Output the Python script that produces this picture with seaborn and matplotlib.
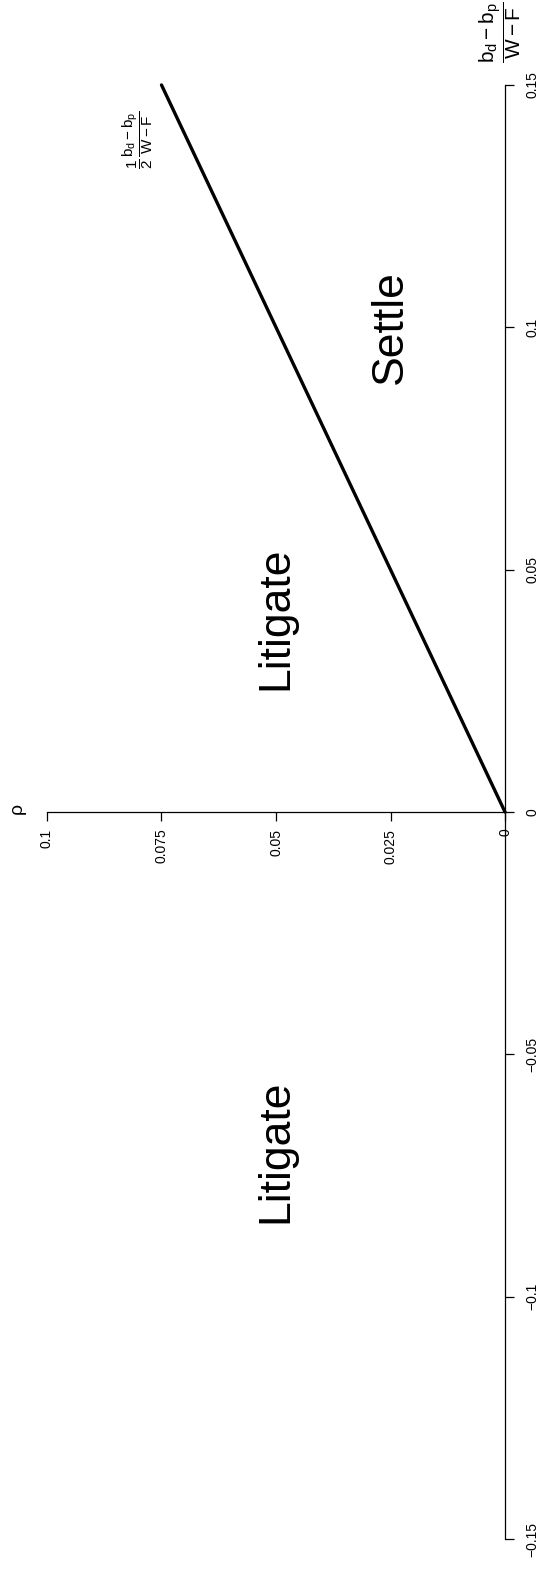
import matplotlib
matplotlib.use("Agg")
import matplotlib.pyplot as plt
import seaborn as sns
import pandas as pd

# ---- data ----
ratio_vals = [0.0, 0.15]          # (b_d - b_p)/(W - F)
rho_vals = [0.0, 0.075]           # rho = ratio / 2
ratio_ticks = [-0.15, -0.1, -0.05, 0.0, 0.05, 0.1, 0.15]
ratio_tick_labels = ["\u22120.15", "\u22120.1", "\u22120.05", "0", "0.05", "0.1", "0.15"]
rho_ticks = [0.0, 0.025, 0.05, 0.075, 0.1]
rho_tick_labels = ["0", "0.025", "0.05", "0.075", "0.1"]
region_labels = ["Litigate", "Litigate", "Settle"]
region_ratio = [0.04, -0.07, 0.1]
region_rho = [0.05, 0.05, 0.025]

sns.set_style("white")
plt.rcParams["font.family"] = ["Liberation Sans", "DejaVu Sans"]
plt.rcParams["mathtext.fontset"] = "custom"
plt.rcParams["mathtext.rm"] = "Liberation Sans"
plt.rcParams["mathtext.it"] = "Liberation Sans"
plt.rcParams["mathtext.sf"] = "Liberation Sans"
plt.rcParams["text.color"] = "black"
plt.rcParams["xtick.color"] = "black"
plt.rcParams["ytick.color"] = "black"
plt.rcParams["axes.labelcolor"] = "black"

fig = plt.figure(figsize=(5.45, 15.70), dpi=100)
ax = fig.add_axes([0, 0, 1, 1])

df = pd.DataFrame({"rho": rho_vals, "ratio": ratio_vals})
sns.lineplot(data=df, x="rho", y="ratio", sort=False, color="black",
             linewidth=2.4, ax=ax, estimator=None)

ax.set_xlim(0.11026, -0.00873)
ax.set_ylim(-0.15639, 0.16753)

for s in ["left", "top"]:
    ax.spines[s].set_visible(False)
ax.spines["right"].set_position(("data", 0.0))
ax.spines["right"].set_bounds(-0.15, 0.15)
ax.spines["bottom"].set_position(("data", 0.0))
ax.spines["bottom"].set_bounds(0.0, 0.1)
for s in ["right", "bottom"]:
    ax.spines[s].set_color("black")
    ax.spines[s].set_linewidth(0.9)

ax.yaxis.set_ticks_position("right")
ax.set_yticks(ratio_ticks, ratio_tick_labels)
ax.set_xticks(rho_ticks, rho_tick_labels)
ax.tick_params(axis="y", direction="out", length=6.5, width=0.9, pad=8.5,
               labelsize=10, labelcolor="black", right=True, left=False)
ax.tick_params(axis="x", direction="out", length=6.5, width=0.9, pad=5.5,
               labelsize=10, labelcolor="black", bottom=True)
for lab in ax.get_yticklabels():
    lab.set_rotation(90)
    lab.set_va("center")
    lab.set_ha("left")
for lab in ax.get_xticklabels():
    lab.set_rotation(90)
    lab.set_va("top")
    lab.set_ha("center")
ax.set_xlabel("")
ax.set_ylabel("")

for s, r, p in zip(region_labels, region_ratio, region_rho):
    ax.text(p, r, s, rotation=90, ha="center", va="center", fontsize=32,
            color="black")

ax.text(0.0010, 0.1610, r"$\dfrac{b_d - b_p}{W - F}$", rotation=90,
        ha="center", va="center", fontsize=15, color="black")
ax.text(0.1064, 0.0008, "\u03c1", rotation=90, ha="center", va="center",
        fontsize=14, color="black")
ax.text(0.0801, 0.1386, r"$\dfrac{1}{2}\,\dfrac{b_d - b_p}{W - F}$", rotation=90,
        ha="center", va="center", fontsize=11, color="black")

fig.savefig("out.png", dpi=100)
